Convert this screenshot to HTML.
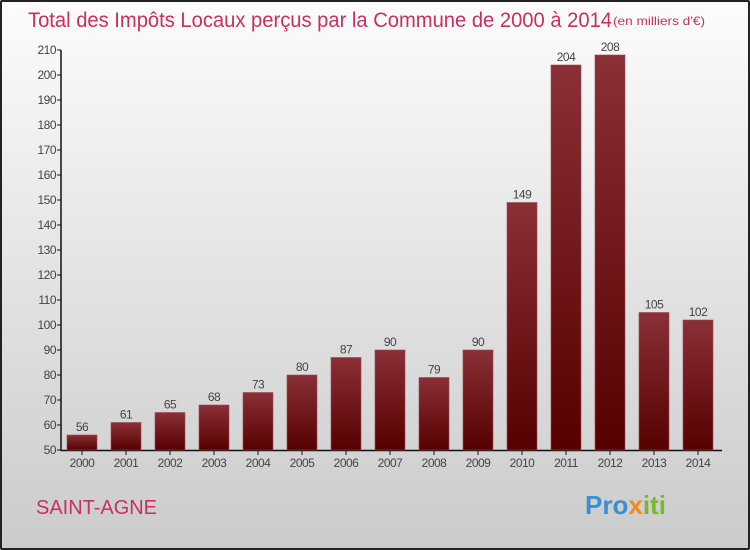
<!DOCTYPE html>
<html><head><meta charset="utf-8"><style>
html,body{margin:0;padding:0}
body{width:750px;height:550px;overflow:hidden;font-family:"Liberation Sans",sans-serif}
#frame{position:absolute;left:0;top:0;width:746px;height:546px;border:2px solid #222;border-radius:2px;background:linear-gradient(#fcfcfc,#cbcbcb)}
</style></head><body>
<div id="frame"></div>
<svg id="chart" width="750" height="550" style="position:absolute;left:0;top:0">
<defs><linearGradient id="bg" x1="0" y1="0" x2="0" y2="1"><stop offset="0" stop-color="#8a3036"/><stop offset="1" stop-color="#560000"/></linearGradient></defs>
<text x="28" y="27" font-size="21" fill="#c8305e" textLength="584" lengthAdjust="spacingAndGlyphs">Total des Impôts Locaux perçus par la Commune de 2000 à 2014</text>
<text x="613" y="25" font-size="12" fill="#c8305e" textLength="92" lengthAdjust="spacingAndGlyphs">(en milliers d'€)</text>
<text x="36" y="514" font-size="20" fill="#c8305e" textLength="121" lengthAdjust="spacingAndGlyphs">SAINT-AGNE</text>
<text x="585" y="514" font-size="26" font-weight="bold" fill="#3a8fd0">Pro<tspan fill="#f08a1c">x</tspan><tspan fill="#7ab630">iti</tspan></text>
<g id="plot"></g>
</svg>
<script>
const categories=["2000","2001","2002","2003","2004","2005","2006","2007","2008","2009","2010","2011","2012","2013","2014"];
const values=[56,61,65,68,73,80,87,90,79,90,149,204,208,105,102];
const yTicks=[50,60,70,80,90,100,110,120,130,140,150,160,170,180,190,200,210];
const NS="http://www.w3.org/2000/svg";
const g=document.getElementById('plot');
const y=v=>450-(v-50)*2.5;
const x=i=>82+i*44;
function mk(t,a){const e=document.createElementNS(NS,t);for(const k in a)e.setAttribute(k,a[k]);g.appendChild(e);return e;}
const ax=mk('line',{x1:61,y1:50,x2:61,y2:451,stroke:'#111','stroke-width':1.5});


const bx=mk('line',{x1:61,y1:450.5,x2:722,y2:450.5,stroke:'#111','stroke-width':1.5});


yTicks.forEach(v=>{
 mk('line',{x1:57,y1:y(v),x2:61,y2:y(v),stroke:'#111'});
 const t=mk('text',{x:56,y:y(v)+4,'text-anchor':'end','font-size':12,fill:'#444','letter-spacing':'-0.5'});
 t.textContent=v;
 
 
});
categories.forEach((c,i)=>{
 const v=values[i];
 const r=mk('rect',{x:x(i)-15,y:y(v),width:30,height:450-y(v),fill:'url(#bg)',stroke:'#9a4a50','stroke-width':0.6});
 
 
 mk('line',{x1:x(i),y1:451,x2:x(i),y2:455,stroke:'#111'});
 const l=mk('text',{x:x(i),y:467,'text-anchor':'middle','font-size':12,fill:'#444','letter-spacing':'-0.5'});
 l.textContent=c;
 
 
 const vl=mk('text',{x:x(i),y:y(v)-4,'text-anchor':'middle','font-size':12,fill:'#444','letter-spacing':'-0.5'});
 vl.textContent=v;
 
 
});
</script>
</body></html>
